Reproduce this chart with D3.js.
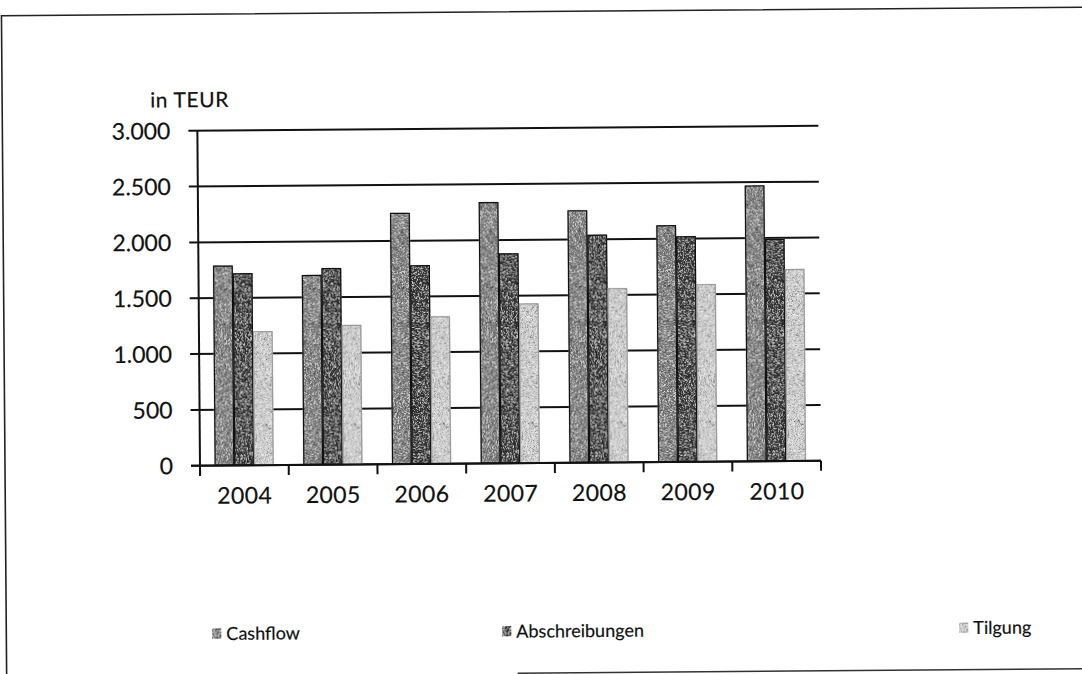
<!DOCTYPE html>
<html>
<head>
<meta charset="utf-8">
<script src="https://cdn.jsdelivr.net/npm/d3@7"></script>
<style>
  html, body { margin: 0; padding: 0; background: #fff; }
  svg { display: block; }
  text { font-family: Lato, "Open Sans", sans-serif; fill: #111; stroke: #111; stroke-width: 0.2px; }
</style>
</head>
<body>
<svg id="chart" width="1082" height="674"></svg>
<script>
// ---- data ----
const years = ["2004", "2005", "2006", "2007", "2008", "2009", "2010"];
const seriesNames = ["Cashflow", "Abschreibungen", "Tilgung"];
const cashflow = [1790, 1700, 2250, 2340, 2260, 2120, 2470];
const abschreibungen = [1720, 1760, 1780, 1880, 2040, 2020, 1990];
const tilgung = [1200, 1250, 1320, 1430, 1560, 1590, 1720];
const yTicks = [0, 500, 1000, 1500, 2000, 2500, 3000];
const yTickLabels = ["0", "500", "1.000", "1.500", "2.000", "2.500", "3.000"];
const unitLabel = "in TEUR";

const seriesValues = [cashflow, abschreibungen, tilgung];
const fills = ["#7e7e7e", "#363636", "#cfcfcf"];
const strokes = ["#111", "#111", "#9a9a9a"];

const svg = d3.select("#chart");

// scan-like grain filter
const defs = svg.append("defs");
const f = defs.append("filter").attr("id", "grain").attr("x", 0).attr("y", 0).attr("width", 1).attr("height", 1);
f.append("feTurbulence").attr("type", "fractalNoise").attr("baseFrequency", 2.2).attr("numOctaves", 1).attr("seed", 3).attr("result", "noise");
f.append("feColorMatrix").attr("in", "noise").attr("type", "saturate").attr("values", 0).attr("result", "gray");
f.append("feComponentTransfer").attr("in", "gray").attr("result", "contrast")
  .call(s => {
    s.append("feFuncR").attr("type", "linear").attr("slope", 1.8).attr("intercept", -0.4);
    s.append("feFuncG").attr("type", "linear").attr("slope", 1.8).attr("intercept", -0.4);
    s.append("feFuncB").attr("type", "linear").attr("slope", 1.8).attr("intercept", -0.4);
    s.append("feFuncA").attr("type", "linear").attr("slope", 0).attr("intercept", 1);
  });
f.append("feBlend").attr("in", "SourceGraphic").attr("in2", "contrast").attr("mode", "overlay").attr("result", "blend");
f.append("feComposite").attr("in", "blend").attr("in2", "SourceGraphic").attr("operator", "in");

// whole scan is slightly rotated
const root = svg.append("g").attr("transform", "rotate(-0.45, 541, 337)");

// frame
root.append("path")
  .attr("d", "M4,690 L4,11.5 L1095,11.5")
  .attr("fill", "none").attr("stroke", "#222").attr("stroke-width", 1.6);
root.append("line")
  .attr("x1", 515).attr("x2", 1095).attr("y1", 673).attr("y2", 673)
  .attr("stroke", "#333").attr("stroke-width", 1.6);

// scales
const plotLeft = 199, plotRight = 820, plotTop = 128, plotBottom = 463;
const x0 = d3.scaleBand().domain(years).range([plotLeft, plotRight]).padding(0);
const x1 = d3.scaleBand().domain(seriesNames)
  .range([x0.bandwidth() * 0.165, x0.bandwidth() * 0.83]).padding(0);
const y = d3.scaleLinear().domain([0, 3000]).range([plotBottom, plotTop]);

// gridlines + y ticks
const grid = root.append("g");
grid.selectAll("line").data(yTicks).join("line")
  .attr("x1", plotLeft - 9).attr("x2", plotRight)
  .attr("y1", d => y(d)).attr("y2", d => y(d))
  .attr("stroke", "#111").attr("stroke-width", 2);

// y axis line
root.append("line")
  .attr("x1", plotLeft).attr("x2", plotLeft)
  .attr("y1", y(3000)).attr("y2", y(0) + 10)
  .attr("stroke", "#111").attr("stroke-width", 2);

// y labels
root.append("g").selectAll("text").data(yTicks).join("text")
  .attr("x", 172).attr("y", d => y(d))
  .attr("dy", "0.36em")
  .attr("text-anchor", "end")
  .attr("font-size", 23)
  .text((d, i) => yTickLabels[i]);

// unit label
root.append("text").attr("x", 152).attr("y", 97).attr("dy", "0.36em")
  .attr("font-size", 21).attr("letter-spacing", 0.6).text(unitLabel);

// bars
const groups = root.append("g").selectAll("g").data(years).join("g")
  .attr("transform", d => `translate(${x0(d)},0)`);
groups.selectAll("rect")
  .data((yr, i) => seriesNames.map((s, k) => ({ s, k, v: seriesValues[k][i] })))
  .join("rect")
  .attr("x", d => x1(d.s))
  .attr("width", x1.bandwidth())
  .attr("y", d => y(d.v))
  .attr("height", d => y(0) - y(d.v))
  .attr("fill", d => fills[d.k])
  .attr("filter", "url(#grain)");
groups.selectAll("rect.outline")
  .data((yr, i) => seriesNames.map((s, k) => ({ s, k, v: seriesValues[k][i] })))
  .join("rect").attr("class", "outline")
  .attr("x", d => x1(d.s) + 0.5)
  .attr("width", x1.bandwidth() - 1)
  .attr("y", d => y(d.v) + 0.5)
  .attr("height", d => y(0) - y(d.v) - 1)
  .attr("fill", "none")
  .attr("stroke", d => strokes[d.k])
  .attr("stroke-width", 1.2);

// x axis baseline and ticks
root.append("line")
  .attr("x1", plotLeft - 9).attr("x2", plotRight)
  .attr("y1", y(0)).attr("y2", y(0))
  .attr("stroke", "#111").attr("stroke-width", 2);
const boundaries = years.map(d => x0(d)).concat([plotRight]);
root.append("g").selectAll("line").data(boundaries).join("line")
  .attr("x1", d => d).attr("x2", d => d)
  .attr("y1", y(0)).attr("y2", y(0) + 10)
  .attr("stroke", "#111").attr("stroke-width", 2);

// x labels
root.append("g").selectAll("text").data(years).join("text")
  .attr("x", d => x0(d) + x0.bandwidth() / 2)
  .attr("y", 493).attr("dy", "0.36em")
  .attr("text-anchor", "middle")
  .attr("font-size", 23)
  .attr("letter-spacing", 0.4)
  .text(d => d);

// legend
const legendX = [210, 500, 957];
const leg = root.append("g").selectAll("g").data(seriesNames).join("g")
  .attr("transform", (d, i) => `translate(${legendX[i]},631)`);
leg.append("rect").attr("x", 0).attr("y", -4.5).attr("width", 9).attr("height", 9)
  .attr("fill", (d, i) => fills[i]).attr("stroke", (d, i) => strokes[i]).attr("stroke-width", 1)
  .attr("filter", "url(#grain)");
leg.append("text").attr("x", 14).attr("y", 0).attr("dy", "0.36em")
  .attr("font-size", 18).text(d => d);
</script>
</body>
</html>
